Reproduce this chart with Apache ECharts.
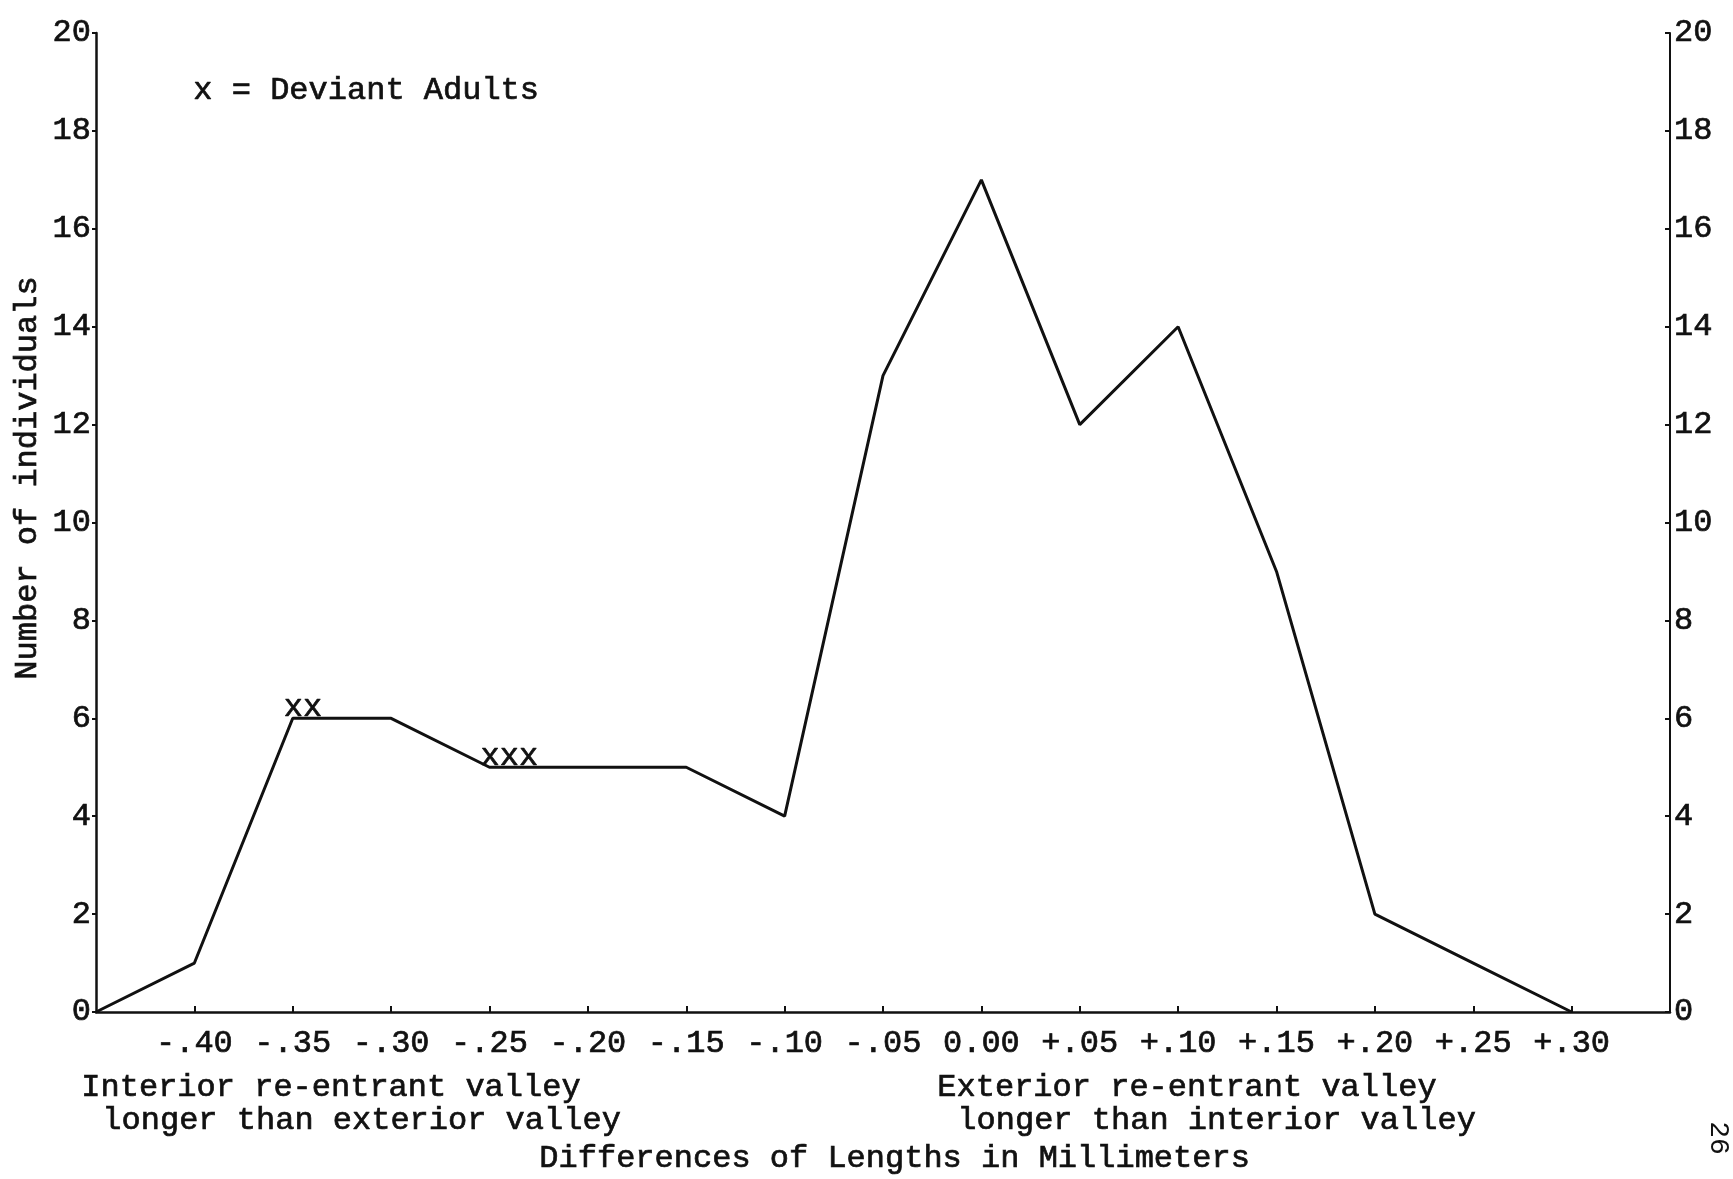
<!DOCTYPE html>
<html>
<head>
<meta charset="utf-8">
<script src="https://cdn.jsdelivr.net/npm/echarts@6/dist/echarts.min.js"></script>
<style>
  html, body { margin: 0; padding: 0; background: #fff; }
  #chart { width: 1733px; height: 1179px; }
</style>
</head>
<body>
<div id="chart"></div>
<script>
// differences of lengths (mm), first and last are unlabeled ends of the axis
var categories = ['-.45', '-.40', '-.35', '-.30', '-.25', '-.20', '-.15', '-.10', '-.05',
  '0.00', '+.05', '+.10', '+.15', '+.20', '+.25', '+.30', '+.35'];
var individuals = [0, 1, 6, 6, 5, 5, 5, 4, 13, 17, 12, 14, 9, 2, 1, 0, null];
// deviant adults marked with x above the line
var deviantCats = ['-.35', '-.25'];
var deviantCounts = [2, 3];

var FONT = '"Liberation Mono", "DejaVu Sans Mono", monospace';
var FS = 32;
var INK = '#111';

var chart = echarts.init(document.getElementById('chart'));

var deviantData = deviantCats.map(function (c, i) {
  return { value: [c, individuals[categories.indexOf(c)]], n: deviantCounts[i] };
});

// slightly heavier text, like the typewriter original
function txt(o) {
  o.font = FS + 'px ' + FONT;
  o.fill = INK;
  o.stroke = INK;
  o.lineWidth = 0.7;
  return o;
}
var labelStyle = { color: INK, fontFamily: FONT, fontSize: FS, textBorderColor: INK, textBorderWidth: 0.7 };

var option = {
  animation: false,
  backgroundColor: '#fff',
  grid: { left: 96, right: 63, top: 33, bottom: 167 },
  xAxis: {
    type: 'category',
    data: categories,
    boundaryGap: false,
    axisLine: { lineStyle: { color: INK, width: 2.5 } },
    axisTick: {
      inside: true, length: 6, lineStyle: { color: INK, width: 2 },
      interval: function (i) { return i > 0 && i < categories.length - 1; }
    },
    axisLabel: Object.assign({
      margin: 16,
      interval: function (i) { return i > 0 && i < categories.length - 1; }
    }, labelStyle),
    splitLine: { show: false }
  },
  yAxis: [
    {
      type: 'value', min: 0, max: 20, interval: 2, position: 'left',
      axisLine: { show: true, lineStyle: { color: INK, width: 2.5 } },
      axisTick: { show: true, length: 4, lineStyle: { color: INK, width: 2 } },
      axisLabel: Object.assign({ margin: 5 }, labelStyle),
      splitLine: { show: false }
    },
    {
      type: 'value', min: 0, max: 20, interval: 2, position: 'right',
      axisLine: { show: true, lineStyle: { color: INK, width: 2 } },
      axisTick: { show: true, inside: true, length: 5, lineStyle: { color: INK, width: 2 } },
      axisLabel: Object.assign({ margin: 4 }, labelStyle),
      splitLine: { show: false }
    }
  ],
  series: [
    {
      type: 'line',
      data: individuals,
      symbol: 'none',
      lineStyle: { color: INK, width: 3 },
      z: 3
    },
    {
      type: 'scatter',
      data: deviantData,
      symbolSize: 0,
      itemStyle: { color: INK, opacity: 1 },
      label: Object.assign({
        show: true,
        position: 'inside',
        align: 'left',
        verticalAlign: 'bottom',
        offset: [-9, 5],
        opacity: 1,
        formatter: function (p) { return new Array(p.data.n + 1).join('x'); }
      }, labelStyle),
      z: 4
    }
  ],
  graphic: [
    { type: 'text', left: 193, top: 74, style: txt({ text: 'x = Deviant Adults' }) },
    { type: 'text', x: 28, y: 478, rotation: Math.PI / 2, style: txt({ text: 'Number of individuals', align: 'center', verticalAlign: 'middle' }) },
    { type: 'text', left: 81, top: 1071, style: txt({ text: 'Interior re-entrant valley' }) },
    { type: 'text', left: 102, top: 1104, style: txt({ text: 'longer than exterior valley' }) },
    { type: 'text', left: 937, top: 1071, style: txt({ text: 'Exterior re-entrant valley' }) },
    { type: 'text', left: 957, top: 1104, style: txt({ text: 'longer than interior valley' }) },
    { type: 'text', left: 539, top: 1142, style: txt({ text: 'Differences of Lengths in Millimeters' }) },
    { type: 'text', x: 1718, y: 1138, rotation: -Math.PI / 2, style: { text: '26', font: '28px ' + FONT, fill: INK, align: 'center', verticalAlign: 'middle' } }
  ]
};

chart.setOption(option);
</script>
</body>
</html>
